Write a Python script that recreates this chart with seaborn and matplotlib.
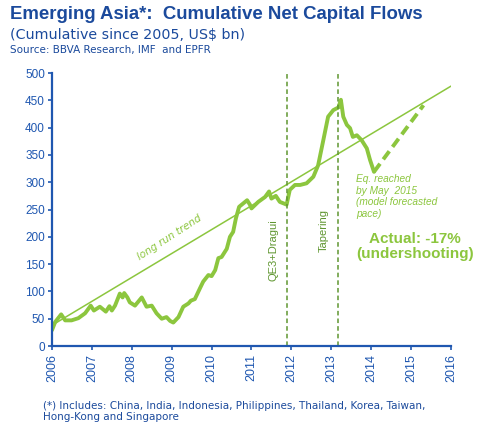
import matplotlib
matplotlib.use("Agg")
import matplotlib.pyplot as plt
import seaborn as sns
import pandas as pd
import numpy as np

# ---- data ----
years = [2006.00, 2006.08, 2006.23, 2006.33, 2006.49, 2006.66, 2006.83, 2006.97, 2007.05,
         2007.20, 2007.35, 2007.44, 2007.50, 2007.58, 2007.70, 2007.77, 2007.81, 2007.89,
         2007.95, 2008.08, 2008.25, 2008.37, 2008.50, 2008.62, 2008.75, 2008.87, 2008.96,
         2009.04, 2009.17, 2009.29, 2009.42, 2009.48, 2009.58, 2009.71, 2009.79, 2009.92,
         2010.00, 2010.09, 2010.17, 2010.25, 2010.38, 2010.46, 2010.54, 2010.61, 2010.69,
         2010.79, 2010.89, 2010.96, 2011.00, 2011.17, 2011.34, 2011.44, 2011.50, 2011.61,
         2011.71, 2011.88, 2011.96, 2012.09, 2012.22, 2012.38, 2012.55, 2012.67, 2012.80,
         2012.92, 2013.05, 2013.18, 2013.24, 2013.30, 2013.39, 2013.47, 2013.54, 2013.64,
         2013.76, 2013.89, 2013.97, 2014.07]
flows = [29, 44, 58, 47, 47, 51, 60, 74, 65,
         72, 63, 73, 65, 74, 96, 89, 97, 89,
         80, 74, 89, 72, 74, 60, 50, 53, 46,
         43, 53, 72, 78, 83, 86, 106, 118, 130,
         128, 139, 161, 163, 178, 200, 209, 234, 255,
         261, 267, 259, 252, 264, 273, 283, 270, 275,
         264, 259, 286, 295, 295, 298, 310, 331, 377,
         420, 432, 437, 451, 420, 405, 399, 383, 386,
         377, 362, 341, 319]
forecast_years = [2014.07, 2015.31]
forecast_flows = [319, 441]
trend_years = [2006.0, 2016.0]
trend_flows = [38, 476]
event_years = [2011.88, 2013.18]
event_labels = ["QE3+Dragui", "Tapering"]
yticks = list(range(0, 501, 50))
xticks = list(range(2006, 2017))

GREEN = "#8cc63e"
DKGREEN = "#5f9630"
BLUE = "#1f57b0"
TITLE = "#1b4a9c"

sns.set_theme(style="white")
plt.rcParams['font.family'] = ['Liberation Sans', 'DejaVu Sans']

fig = plt.figure(figsize=(4.89, 4.32), dpi=100)
ax = fig.add_axes([0.1063, 0.199, 0.816, 0.632])

df = pd.DataFrame({"year": years, "flows": flows})
sns.lineplot(data=df, x="year", y="flows", ax=ax, color=GREEN, lw=2.8, sort=False)
sns.lineplot(x=forecast_years, y=forecast_flows, ax=ax, color=GREEN, lw=2.8,
             linestyle=(0, (2.6, 1.4)))
sns.lineplot(x=trend_years, y=trend_flows, ax=ax, color=GREEN, lw=1.1)
for ey in event_years:
    ax.axvline(ey, color=DKGREEN, lw=1.1, ls=(0, (3, 2)))

ax.set_xlim(2006, 2016)
ax.set_ylim(0, 500)
ax.set_xticks(xticks)
ax.set_xticklabels([str(x) for x in xticks], rotation=90)
ax.set_yticks(yticks)
ax.set_xlabel("")
ax.set_ylabel("")
for s in ["top", "right"]:
    ax.spines[s].set_visible(False)
for s in ["left", "bottom"]:
    ax.spines[s].set_color(BLUE)
    ax.spines[s].set_linewidth(1.6)
ax.tick_params(axis="both", colors=BLUE, labelsize=8.5, length=3, width=1.2,
               direction="out", pad=2)
ax.tick_params(axis="x", labelsize=9, pad=3)
ax.tick_params(axis="both", which="both", bottom=True, left=True)

# annotations
ax.text(2008.95, 199, "long run trend", color=GREEN, fontsize=7.5, style="italic",
        rotation=33, ha="center", va="center", family=['DejaVu Sans'])
ax.text(2011.55, 176, event_labels[0], color=DKGREEN, fontsize=8, rotation=90,
        ha="center", va="center")
ax.text(2012.80, 211, event_labels[1], color=DKGREEN, fontsize=8, rotation=90,
        ha="center", va="center")
ax.text(2013.62, 315, "Eq. reached\nby May  2015\n(model forecasted\npace)", color=GREEN,
        fontsize=7.3, style="italic", ha="left", va="top", linespacing=1.2)
ax.text(2015.1, 182, "Actual: -17%\n(undershooting)", color=GREEN, fontsize=11,
        fontweight="bold", ha="center", va="center", linespacing=1.1)

# titles
fig.text(0.02, 0.985, "Emerging Asia*:  Cumulative Net Capital Flows", color=TITLE,
         fontsize=13.4, fontweight="bold", ha="left", va="top")
fig.text(0.02, 0.935, "(Cumulative since 2005, US$ bn)", color=TITLE,
         fontsize=10.3, ha="left", va="top", family=['DejaVu Sans'])
fig.text(0.02, 0.895, "Source: BBVA Research, IMF  and EPFR", color=TITLE,
         fontsize=7.5, ha="left", va="top", family=['DejaVu Sans'])
fig.text(0.088, 0.047, "(*) Includes: China, India, Indonesia, Philippines, Thailand, Korea, Taiwan,\nHong-Kong and Singapore",
         color=TITLE, fontsize=7.5, ha="left", va="center", linespacing=1.2,
         family=['DejaVu Sans'])

fig.savefig("out.png", dpi=100)
